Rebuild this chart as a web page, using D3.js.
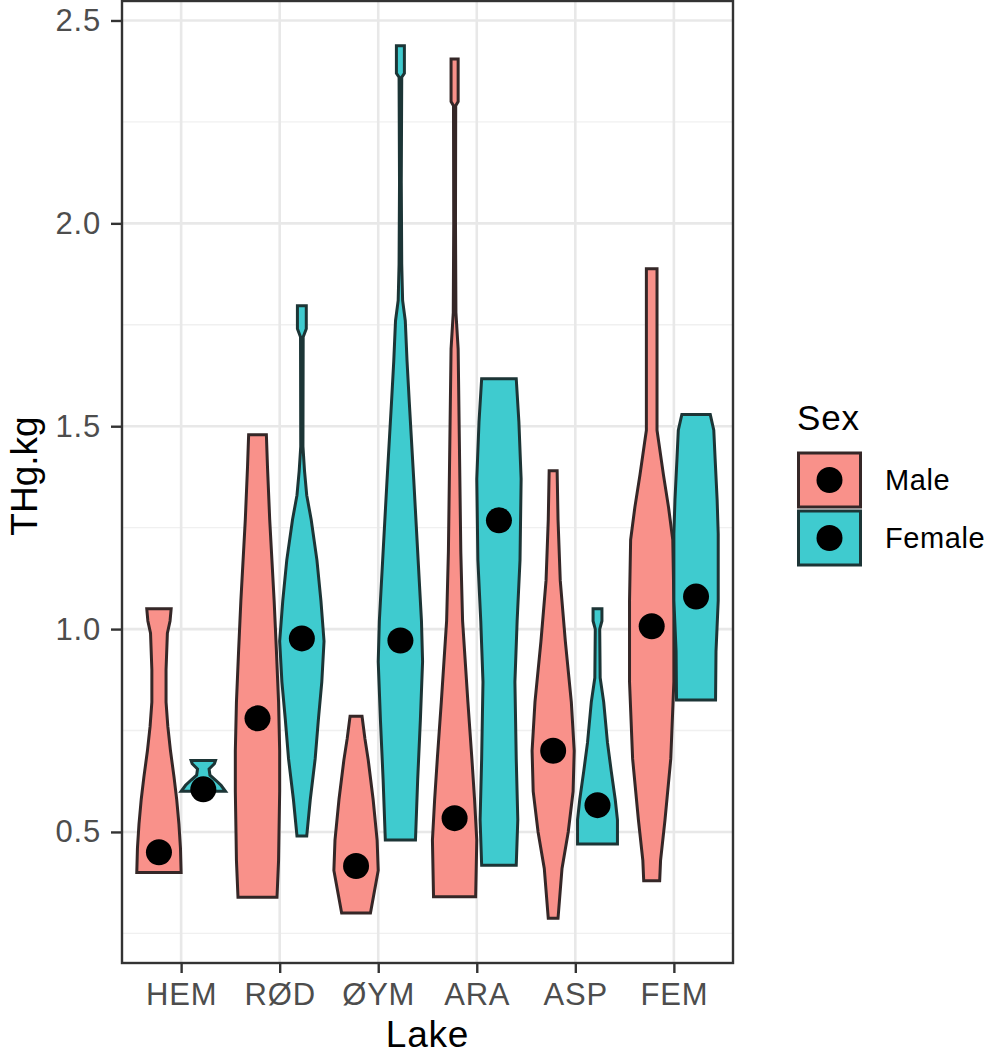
<!DOCTYPE html>
<meta charset="utf-8">
<title>THg by lake and sex</title>
<script src="https://d3js.org/d3.v7.min.js"></script>
<style>
  body { margin: 0; background: #fff; }
  text { font-family: "Liberation Sans", Arial, sans-serif; }
</style>
<body>
<div id="violins"></div>
<script>

// categories and ticks
var lakes = ["HEM", "RØD", "ØYM", "ARA", "ASP", "FEM"];
var sexes = ["Male", "Female"];
var yTicks = [0.5, 1.0, 1.5, 2.0, 2.5];
var yMinor = [0.25, 0.75, 1.25, 1.75, 2.25];

// black dots, one per lake
var dotMale   = [0.45, 0.78, 0.416, 0.534, 0.70, 1.007];
var dotFemale = [0.605, 0.977, 0.972, 1.268, 0.566, 1.08];

// violin outlines: [THg.kg, relative density width]
var hemMale   = [[1.05,0.55],[1.02,0.5],[0.99,0.38],[0.90,0.32],[0.82,0.32],[0.76,0.4],[0.70,0.52],[0.635,0.68],[0.58,0.8],[0.52,0.9],[0.46,0.97],[0.40,1.0]];
var hemFemale = [[0.676,0.55],[0.668,0.5],[0.655,0.26],[0.64,0.3],[0.628,0.55],[0.615,0.8],[0.60,1.0]];
var rodMale   = [[1.479,0.4],[1.40,0.45],[1.27,0.55],[1.17,0.65],[1.07,0.75],[0.95,0.85],[0.82,0.95],[0.70,1.0],[0.60,1.0],[0.50,0.97],[0.43,0.95],[0.339,0.88]];
var rodFemale = [[1.797,0.2],[1.74,0.2],[1.72,0.06],[1.45,0.05],[1.39,0.12],[1.33,0.22],[1.27,0.42],[1.17,0.68],[1.07,0.86],[0.97,1.0],[0.87,0.9],[0.78,0.75],[0.68,0.6],[0.58,0.38],[0.49,0.22]];
var oymMale   = [[0.785,0.27],[0.73,0.4],[0.677,0.55],[0.58,0.77],[0.48,0.95],[0.405,1.0],[0.345,0.8],[0.30,0.65]];
var oymFemale = [[2.438,0.18],[2.37,0.18],[2.36,0.06],[2.1,0.04],[1.9,0.06],[1.81,0.1],[1.76,0.22],[1.66,0.3],[1.56,0.4],[1.37,0.6],[1.17,0.8],[1.02,0.95],[0.92,1.0],[0.775,0.9],[0.63,0.78],[0.48,0.68]];
var araMale   = [[2.405,0.16],[2.30,0.16],[2.29,0.05],[2.0,0.04],[1.78,0.06],[1.69,0.16],[1.44,0.22],[1.19,0.28],[1.02,0.36],[0.82,0.6],[0.68,0.78],[0.58,0.9],[0.48,1.0],[0.34,0.95]];
var araFemale = [[1.617,0.78],[1.51,0.9],[1.37,1.0],[1.17,0.95],[1.02,0.82],[0.87,0.72],[0.68,0.78],[0.53,0.85],[0.418,0.78]];
var aspMale   = [[1.39,0.18],[1.27,0.22],[1.12,0.32],[0.97,0.55],[0.82,0.82],[0.70,0.95],[0.60,0.9],[0.50,0.68],[0.41,0.4],[0.287,0.22]];
var aspFemale = [[1.05,0.2],[1.02,0.2],[1.0,0.1],[0.88,0.12],[0.82,0.28],[0.72,0.45],[0.65,0.62],[0.58,0.8],[0.53,0.9],[0.47,0.9]];
var femMale   = [[1.888,0.24],[1.49,0.24],[1.46,0.32],[1.38,0.53],[1.30,0.76],[1.22,0.95],[1.07,1.0],[0.87,1.0],[0.68,0.86],[0.53,0.6],[0.43,0.4],[0.38,0.36]];
var femFemale = [[1.529,0.64],[1.49,0.8],[1.42,0.86],[1.32,0.95],[1.235,1.0],[1.07,1.0],[0.945,0.9],[0.825,0.88]];

var maleShapes   = [hemMale, rodMale, oymMale, araMale, aspMale, femMale];
var femaleShapes = [hemFemale, rodFemale, oymFemale, araFemale, aspFemale, femFemale];

var fills   = {Male: "#f9918a", Female: "#3fcbcf"};
var strokes = {Male: "#352727", Female: "#1c3536"};

var W = 996, H = 1055;
var panel = {left: 122, right: 733, top: 1, bottom: 963};

var svg = d3.select("#violins").append("svg")
    .attr("width", W)
    .attr("height", H);

var x = d3.scalePoint()
    .domain(lakes)
    .range([panel.left, panel.right])
    .padding(0.6);

var y = d3.scaleLinear()
    .domain([0.177, 2.548])
    .range([panel.bottom, panel.top]);

var step = x.step();
var dodge = 0.225 * step;
var halfW = 0.225 * step;

// grid
var grid = svg.append("g");
grid.selectAll(".minor").data(yMinor).enter().append("line")
    .attr("x1", panel.left).attr("x2", panel.right)
    .attr("y1", d => y(d)).attr("y2", d => y(d))
    .attr("stroke", "#f0f0f0").attr("stroke-width", 1.4);
grid.selectAll(".major").data(yTicks).enter().append("line")
    .attr("x1", panel.left).attr("x2", panel.right)
    .attr("y1", d => y(d)).attr("y2", d => y(d))
    .attr("stroke", "#e8e8e8").attr("stroke-width", 2.6);
grid.selectAll(".vmajor").data(lakes).enter().append("line")
    .attr("y1", panel.top).attr("y2", panel.bottom)
    .attr("x1", d => x(d)).attr("x2", d => x(d))
    .attr("stroke", "#e8e8e8").attr("stroke-width", 2.6);

var area = d3.area()
    .y(d => y(d[0]))
    .x0(d => -d[1] * halfW)
    .x1(d => d[1] * halfW);

function drawSex(shapes, sex, offset) {
  svg.append("g").selectAll("path").data(shapes).enter().append("path")
      .attr("transform", (d, i) => "translate(" + (x(lakes[i]) + offset) + ",0)")
      .attr("d", area)
      .attr("fill", fills[sex])
      .attr("stroke", strokes[sex])
      .attr("stroke-width", 3);
}

drawSex(maleShapes, "Male", -dodge);
drawSex(femaleShapes, "Female", dodge);

// dots on top
svg.append("g").selectAll("circle").data(dotMale).enter().append("circle")
    .attr("cx", (d, i) => x(lakes[i]) - dodge)
    .attr("cy", d => y(d))
    .attr("r", 13)
    .attr("fill", "#000");
svg.append("g").selectAll("circle").data(dotFemale).enter().append("circle")
    .attr("cx", (d, i) => x(lakes[i]) + dodge)
    .attr("cy", d => y(d))
    .attr("r", 13)
    .attr("fill", "#000");

// panel border
svg.append("rect")
    .attr("x", panel.left).attr("y", panel.top)
    .attr("width", panel.right - panel.left)
    .attr("height", panel.bottom - panel.top)
    .attr("fill", "none")
    .attr("stroke", "#333")
    .attr("stroke-width", 2.4);

// axes
var yAxis = svg.append("g")
    .attr("transform", "translate(" + panel.left + ",0)")
    .call(d3.axisLeft(y).tickValues(yTicks).tickFormat(d3.format(".1f")).tickSize(11).tickPadding(10));
var xAxis = svg.append("g")
    .attr("transform", "translate(0," + panel.bottom + ")")
    .call(d3.axisBottom(x).tickSize(10).tickPadding(10));

[yAxis, xAxis].forEach(function(a) {
  a.select(".domain").remove();
  a.selectAll(".tick line").attr("stroke", "#333").attr("stroke-width", 2.4);
  a.selectAll(".tick text")
      .attr("fill", "#4d4d4d")
      .style("font-size", "31px")
      .style("letter-spacing", "0.8px")
      .style("font-family", "Liberation Sans, Arial, sans-serif");
});

svg.append("text")
    .attr("x", (panel.left + panel.right) / 2)
    .attr("y", 1047)
    .attr("text-anchor", "middle")
    .style("font-size", "37px")
    .style("letter-spacing", "0.8px")
    .text("Lake");

svg.append("text")
    .attr("transform", "translate(37," + ((panel.top + panel.bottom) / 2 - 6) + ") rotate(-90)")
    .attr("text-anchor", "middle")
    .style("font-size", "37px")
    .text("THg.kg");

// legend
var legend = svg.append("g").attr("transform", "translate(797,0)");
legend.append("text")
    .attr("x", 0).attr("y", 430)
    .style("font-size", "35px")
    .style("letter-spacing", "0.8px")
    .text("Sex");

var keyTop = [453, 511];
sexes.forEach(function(s, i) {
  legend.append("rect")
      .attr("x", 1.5).attr("y", keyTop[i])
      .attr("width", 62).attr("height", 54)
      .attr("fill", fills[s])
      .attr("stroke", strokes[s])
      .attr("stroke-width", 3);
  legend.append("circle")
      .attr("cx", 32.5).attr("cy", keyTop[i] + 27)
      .attr("r", 13)
      .attr("fill", "#000");
  legend.append("text")
      .attr("x", 88).attr("y", keyTop[i] + 27)
      .attr("dy", "0.36em")
      .style("font-size", "29px")
      .style("letter-spacing", "0.6px")
      .text(s);
});

</script>
</body>
